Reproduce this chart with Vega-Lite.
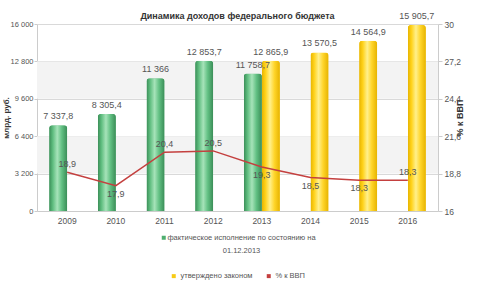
{
  "$schema": "https://vega.github.io/schema/vega-lite/v6.json",
  "width": 401,
  "height": 187,
  "autosize": "none",
  "padding": {"left": 37, "top": 24, "right": 39, "bottom": 77},
  "background": "white",
  "title": {"text": "Динамика доходов федерального бюджета", "fontSize": 9, "fontWeight": "bold", "color": "#333", "font": "Liberation Sans", "offset": 5, "dy": 14, "anchor": "middle"},
  "datasets": {
    "bars": [
      {"year": "2009", "series": "фактическое исполнение по состоянию на 01.12.2013", "value": 7337.8},
      {"year": "2010", "series": "фактическое исполнение по состоянию на 01.12.2013", "value": 8305.4},
      {"year": "2011", "series": "фактическое исполнение по состоянию на 01.12.2013", "value": 11366},
      {"year": "2012", "series": "фактическое исполнение по состоянию на 01.12.2013", "value": 12853.7},
      {"year": "2013", "series": "фактическое исполнение по состоянию на 01.12.2013", "value": 11758.7},
      {"year": "2013", "series": "утверждено законом", "value": 12865.9},
      {"year": "2014", "series": "утверждено законом", "value": 13570.5},
      {"year": "2015", "series": "утверждено законом", "value": 14564.9},
      {"year": "2016", "series": "утверждено законом", "value": 15905.7}
    ],
    "gdp": [
      {"year": "2009", "s": "% к ВВП", "pct": 18.9},
      {"year": "2010", "s": "% к ВВП", "pct": 17.9},
      {"year": "2011", "s": "% к ВВП", "pct": 20.4},
      {"year": "2012", "s": "% к ВВП", "pct": 20.5},
      {"year": "2013", "s": "% к ВВП", "pct": 19.3},
      {"year": "2014", "s": "% к ВВП", "pct": 18.5},
      {"year": "2015", "s": "% к ВВП", "pct": 18.3},
      {"year": "2016", "s": "% к ВВП", "pct": 18.3}
    ],
    "stripes": [
      {"value": 3200, "hi": 6400},
      {"value": 9600, "hi": 12800}
    ]
  },
  "layer": [
    {
      "encoding": {
        "y": {
          "field": "value", "type": "quantitative",
          "scale": {"domain": [0, 16000], "nice": false},
          "axis": {
            "title": "млрд. руб.", "titleFontSize": 8, "titleFontWeight": "bold", "titleColor": "#333", "titleFont": "Liberation Sans", "titlePadding": 0,
            "values": [0, 3200, 6400, 9600, 12800, 16000], "format": ",d",
            "labelColor": "#555", "labelFontSize": 7.5, "labelFont": "Liberation Sans",
            "gridColor": "#d9d9d9", "domainColor": "#cccccc", "tickColor": "#cccccc", "tickSize": 3, "labelPadding": 1
          }
        }
      },
      "layer": [
        {
          "data": {"name": "stripes"},
          "mark": {"type": "rect", "fill": "#f3f3f3"},
          "encoding": {"y2": {"field": "hi"}}
        },
        {
          "data": {"name": "bars"},
          "mark": {"type": "bar", "cornerRadiusTopLeft": 3, "cornerRadiusTopRight": 3},
          "encoding": {
            "x": {"field": "year", "type": "ordinal", "scale": {"paddingInner": 0.26, "paddingOuter": 0.25},
              "axis": {"title": null, "labelAngle": 0, "ticks": false, "domainColor": "#cccccc", "labelColor": "#555", "labelFontSize": 8.5, "labelFont": "Liberation Sans", "labelPadding": 5}},
            "xOffset": {"field": "series", "scale": {"domain": ["фактическое исполнение по состоянию на 01.12.2013", "утверждено законом"], "paddingInner": 0}},
            "fill": {"field": "series", "type": "nominal",
              "scale": {"domain": ["фактическое исполнение по состоянию на 01.12.2013", "утверждено законом"], "range": ["#4fae6f", "#f7cb16"]},
              "legend": {
                "orient": "bottom", "title": null, "values": ["фактическое исполнение по состоянию на 01.12.2013"], "offset": 9,
                "symbolType": "square", "symbolSize": 16, "labelFontSize": 7.5, "labelColor": "#555", "labelFont": "Liberation Sans", "labelOffset": 3,
                "labelExpr": "datum.label == 'фактическое исполнение по состоянию на 01.12.2013' ? ['фактическое исполнение по состоянию на', '01.12.2013'] : datum.label",
                "labelAlign": "center", "labelBaseline": "top", "labelLimit": 300,
                "encode": {"labels": {"update": {"dx": {"value": 71}, "dy": {"value": -4}, "lineHeight": {"value": 13}}}}
              }
            }
          }
        },
        {
          "data": {"name": "bars"},
          "transform": [{"filter": "datum.series != 'утверждено законом'"}],
          "mark": {"type": "bar", "cornerRadiusTopLeft": 3, "cornerRadiusTopRight": 3,
            "fill": {"gradient": "linear", "x1": 0, "x2": 1, "y1": 0, "y2": 0, "stops": [
              {"offset": 0, "color": "#3a8d57"}, {"offset": 0.2, "color": "#5fbd7f"}, {"offset": 0.45, "color": "#a6e3b9"}, {"offset": 0.7, "color": "#62c083"}, {"offset": 1, "color": "#3a8d57"}]}},
          "encoding": {
            "x": {"field": "year", "type": "ordinal"},
            "xOffset": {"field": "series"}
          }
        },
        {
          "data": {"name": "bars"},
          "transform": [{"filter": "datum.series == 'утверждено законом'"}],
          "mark": {"type": "bar", "cornerRadiusTopLeft": 3, "cornerRadiusTopRight": 3,
            "fill": {"gradient": "linear", "x1": 0, "x2": 1, "y1": 0, "y2": 0, "stops": [
              {"offset": 0, "color": "#e6b300"}, {"offset": 0.2, "color": "#ffd21a"}, {"offset": 0.45, "color": "#fff08c"}, {"offset": 0.7, "color": "#ffd52a"}, {"offset": 1, "color": "#e6b300"}]}},
          "encoding": {
            "x": {"field": "year", "type": "ordinal"},
            "xOffset": {"field": "series"}
          }
        },
        {
          "data": {"name": "bars"},
          "mark": {"type": "text", "baseline": "bottom", "dy": -4, "fontSize": 9, "color": "#555", "font": "Liberation Sans"},
          "encoding": {
            "x": {"field": "year", "type": "ordinal"},
            "xOffset": {"field": "series"},
            "text": {"field": "value", "type": "quantitative", "format": ",.1~f"}
          }
        }
      ]
    },
    {
      "data": {"name": "gdp"},
      "encoding": {
        "x": {"field": "year", "type": "ordinal"},
        "y": {
          "field": "pct", "type": "quantitative",
          "scale": {"domain": [16, 30], "nice": false, "zero": false},
          "axis": {
            "orient": "right", "title": "% к ВВП", "titleAngle": 270, "titleFontSize": 9, "titleFontWeight": "bold", "titleColor": "#333", "titleFont": "Liberation Sans", "titlePadding": 4,
            "values": [16, 18.8, 21.6, 24.4, 27.2, 30], "format": ".1~f", "grid": false,
            "labelColor": "#555", "labelFontSize": 8.5, "labelFont": "Liberation Sans",
            "domainColor": "#cccccc", "tickColor": "#cccccc", "tickSize": 4, "labelPadding": 2
          }
        }
      },
      "layer": [
        {
          "mark": {"type": "line", "strokeWidth": 1.5},
          "encoding": {
            "stroke": {"field": "s", "type": "nominal",
              "scale": {"domain": ["утверждено законом", "% к ВВП"], "range": ["#f7cb16", "#c4403f"]},
              "legend": {
                "orient": "bottom", "title": null, "direction": "horizontal", "symbolType": "square", "symbolSize": 16,
                "labelFontSize": 7.5, "labelColor": "#555", "labelFont": "Liberation Sans", "columnPadding": 12, "labelOffset": 3,
                "encode": {"symbols": {"update": {"fill": {"scale": "stroke", "field": "value"}, "strokeWidth": {"value": 0}}}}
              }
            }
          }
        },
        {
          "transform": [{"filter": {"field": "year", "oneOf": ["2009", "2011", "2012", "2016"]}}],
          "mark": {"type": "text", "baseline": "middle", "dy": -8, "fontSize": 9, "color": "#555", "font": "Liberation Sans"},
          "encoding": {"text": {"field": "pct", "type": "quantitative", "format": ".1f"}}
        },
        {
          "transform": [{"filter": {"field": "year", "oneOf": ["2010", "2013", "2014", "2015"]}}],
          "mark": {"type": "text", "baseline": "middle", "dy": 8, "fontSize": 9, "color": "#555", "font": "Liberation Sans"},
          "encoding": {"text": {"field": "pct", "type": "quantitative", "format": ".1f"}}
        }
      ]
    }
  ],
  "resolve": {"scale": {"y": "independent"}},
  "config": {
    "view": {"stroke": null},
    "locale": {"number": {"decimal": ",", "thousands": " ", "grouping": [3], "currency": ["", ""]}},
    "legend": {"layout": {"bottom": {"direction": "vertical", "anchor": "middle", "center": true, "margin": 17}}}
  }
}
